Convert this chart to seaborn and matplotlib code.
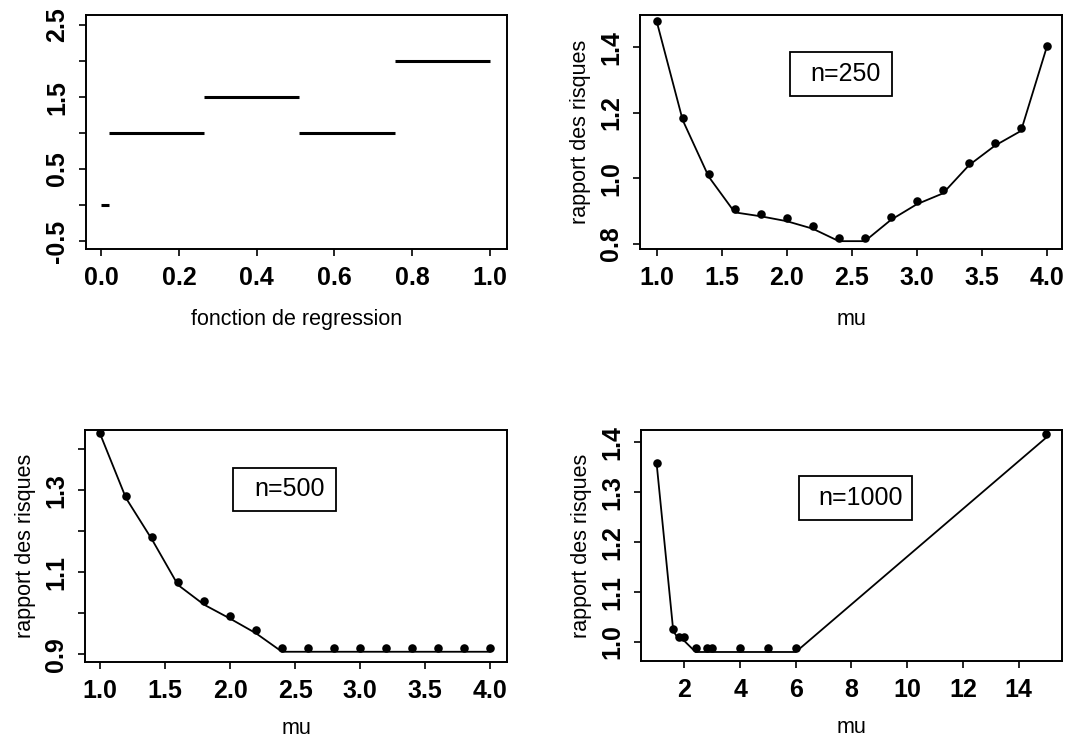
import matplotlib
matplotlib.use("Agg")
import matplotlib.pyplot as plt
import seaborn as sns
from matplotlib.patches import Rectangle

# fonction de regression (paliers)
step_start = [0.0, 0.02, 0.265, 0.51, 0.757]
step_end = [0.02, 0.265, 0.51, 0.757, 1.0]
step_level = [0.0, 1.0, 1.5, 1.0, 2.0]

# n=250
mu_250 = [1.0, 1.2, 1.4, 1.6, 1.8, 2.0, 2.2, 2.4, 2.6, 2.8, 3.0, 3.2, 3.4, 3.6, 3.8, 4.0]
pts_250 = [1.48, 1.184, 1.012, 0.906, 0.892, 0.878, 0.853, 0.817, 0.817,
           0.882, 0.930, 0.963, 1.047, 1.109, 1.154, 1.404]
line_250 = [1.48, 1.178, 1.005, 0.896, 0.884, 0.869, 0.846, 0.808, 0.808,
            0.873, 0.921, 0.954, 1.040, 1.100, 1.145, 1.404]

# n=500
mu_500 = [1.0, 1.2, 1.4, 1.6, 1.8, 2.0, 2.2, 2.4, 2.6, 2.8, 3.0, 3.2, 3.4, 3.6, 3.8, 4.0]
pts_500 = [1.4385, 1.286, 1.187, 1.075, 1.029, 0.993, 0.958, 0.914, 0.914,
           0.914, 0.914, 0.914, 0.914, 0.914, 0.914, 0.914]
line_500 = [1.4385, 1.281, 1.180, 1.069, 1.021, 0.987, 0.951, 0.906, 0.906,
            0.906, 0.906, 0.906, 0.906, 0.906, 0.906, 0.906]

# n=1000
mu_1000 = [1.0, 1.6, 1.8, 2.0, 2.4, 2.8, 3.0, 4.0, 5.0, 6.0, 15.0]
pts_1000 = [1.359, 1.027, 1.010, 1.010, 0.987, 0.987, 0.987, 0.987, 0.987, 0.987, 1.416]
line_1000 = [1.359, 1.022, 1.005, 1.002, 0.980, 0.980, 0.980, 0.980, 0.980, 0.980, 1.410]

ticks_x1 = [0.0, 0.2, 0.4, 0.6, 0.8, 1.0]
ticks_y1 = [-0.5, 0.0, 0.5, 1.0, 1.5, 2.0, 2.5]
labels_y1 = ["-0.5", "", "0.5", "", "1.5", "", "2.5"]
ticks_mu = [1.0, 1.5, 2.0, 2.5, 3.0, 3.5, 4.0]
ticks_y250 = [0.8, 1.0, 1.2, 1.4]
ticks_y500 = [0.9, 1.0, 1.1, 1.2, 1.3, 1.4]
labels_y500 = ["0.9", "", "1.1", "", "1.3", ""]
ticks_x1000 = [2, 4, 6, 8, 10, 12, 14]
ticks_y1000 = [1.0, 1.1, 1.2, 1.3, 1.4]

sns.set_theme(style="ticks")
plt.rcParams['font.family'] = ['Liberation Sans', 'DejaVu Sans']
plt.rcParams['axes.linewidth'] = 1.4
plt.rcParams['axes.edgecolor'] = 'black'
plt.rcParams['axes.labelcolor'] = 'black'
plt.rcParams['text.color'] = 'black'

NARROW = ['Liberation Sans Narrow', 'Liberation Sans', 'DejaVu Sans']

fig = plt.figure(figsize=(10.76, 7.40), dpi=100)
ax1 = fig.add_axes([0.0799, 0.6635, 0.3913, 0.3162])
ax2 = fig.add_axes([0.5948, 0.6635, 0.3922, 0.3162])
ax3 = fig.add_axes([0.0790, 0.1054, 0.3922, 0.3135])
ax4 = fig.add_axes([0.5957, 0.1068, 0.3913, 0.3122])

TICK = dict(fontsize=18, fontweight='bold', family=NARROW)
LAB = dict(fontsize=15.5)


def style(ax, xt, xl, yt, yl):
    ax.set_xticks(xt, xl, **TICK)
    ax.set_yticks(yt, yl, rotation=90, va='center', **TICK)
    ax.tick_params(length=5, width=1.2, pad=7, colors='black')
    for s in ax.spines.values():
        s.set_visible(True)
        s.set_color('black')


def label_box(ax, txt, x0, x1, y0, y1, tx, ty):
    ax.add_patch(Rectangle((x0, y0), x1 - x0, y1 - y0, transform=ax.transAxes,
                           fill=False, ec='black', lw=1.3))
    ax.text(tx, ty, txt, transform=ax.transAxes, ha='center', va='center',
            fontsize=18, family=NARROW)


def curve(ax, mu, line, pts):
    sns.lineplot(x=mu, y=line, ax=ax, color='black', lw=1.3)
    sns.scatterplot(x=mu, y=pts, ax=ax, color='black', s=38, edgecolor='black', linewidth=0)


# panel 1
ax1.hlines(step_level, step_start, step_end, color='black', lw=2.2)
ax1.set_xlim(-0.039, 1.044)
ax1.set_ylim(-0.61, 2.64)
style(ax1, ticks_x1, [f"{t:.1f}" for t in ticks_x1], ticks_y1, labels_y1)
ax1.set_xlabel("fonction de regression", labelpad=14, **LAB)

# panel 2
curve(ax2, mu_250, line_250, pts_250)
ax2.set_xlim(0.872, 4.115)
ax2.set_ylim(0.784, 1.499)
style(ax2, ticks_mu, [f"{t:.1f}" for t in ticks_mu], ticks_y250, [f"{t:.1f}" for t in ticks_y250])
ax2.set_xlabel("mu", labelpad=14, **LAB)
ax2.set_ylabel("rapport des risques", labelpad=6, **LAB)
label_box(ax2, "n=250", 0.355, 0.597, 0.654, 0.842, 0.488, 0.748)

# panel 3
curve(ax3, mu_500, line_500, pts_500)
ax3.set_xlim(0.885, 4.13)
ax3.set_ylim(0.881, 1.447)
style(ax3, ticks_mu, [f"{t:.1f}" for t in ticks_mu], ticks_y500, labels_y500)
ax3.set_xlabel("mu", labelpad=11, **LAB)
ax3.set_ylabel("rapport des risques", labelpad=6, **LAB)
label_box(ax3, "n=500", 0.350, 0.595, 0.651, 0.837, 0.485, 0.744)

# panel 4
curve(ax4, mu_1000, line_1000, pts_1000)
ax4.set_xlim(0.44, 15.56)
ax4.set_ylim(0.962, 1.425)
style(ax4, ticks_x1000, [str(t) for t in ticks_x1000], ticks_y1000, [f"{t:.1f}" for t in ticks_y1000])
ax4.set_xlabel("mu", labelpad=11, **LAB)
ax4.set_ylabel("rapport des risques", labelpad=6, **LAB)
label_box(ax4, "n=1000", 0.376, 0.644, 0.610, 0.801, 0.522, 0.707)

fig.savefig("out.png", dpi=100, facecolor='white')
